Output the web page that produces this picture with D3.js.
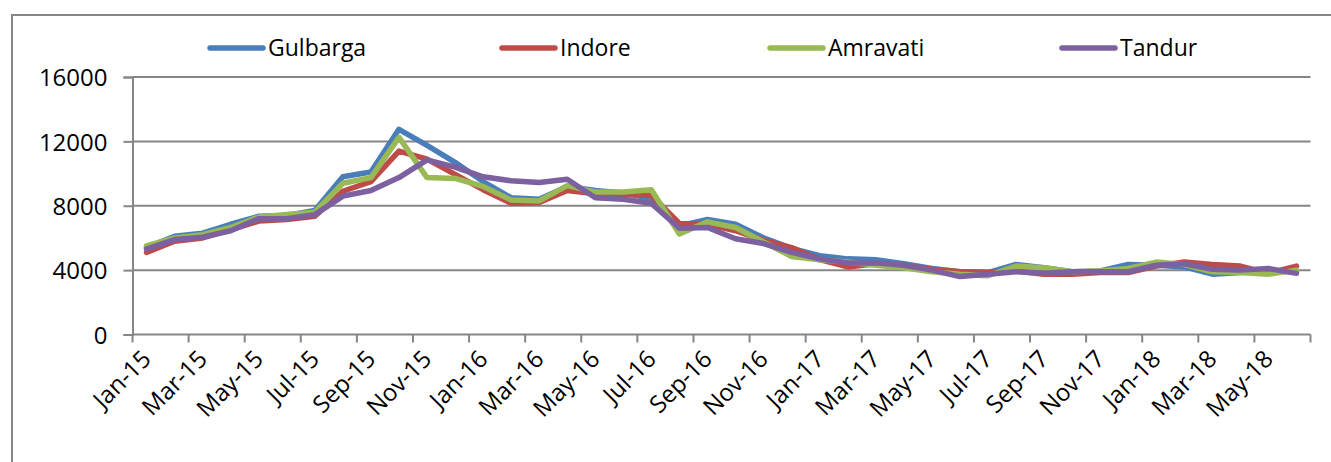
<!DOCTYPE html>
<html>
<head>
<meta charset="utf-8">
<title>Monthly prices</title>
<script src="https://cdnjs.cloudflare.com/ajax/libs/d3/7.8.5/d3.min.js"></script>
<style>
  body { margin: 0; background: #fff; }
  svg text { font-family: "Open Sans", sans-serif; fill: #000; }
</style>
</head>
<body>
<div id="chart"></div>
<script>
// months, Jan-15 .. Jun-18
var months = ["Jan-15","Feb-15","Mar-15","Apr-15","May-15","Jun-15","Jul-15","Aug-15","Sep-15","Oct-15","Nov-15","Dec-15",
              "Jan-16","Feb-16","Mar-16","Apr-16","May-16","Jun-16","Jul-16","Aug-16","Sep-16","Oct-16","Nov-16","Dec-16",
              "Jan-17","Feb-17","Mar-17","Apr-17","May-17","Jun-17","Jul-17","Aug-17","Sep-17","Oct-17","Nov-17","Dec-17",
              "Jan-18","Feb-18","Mar-18","Apr-18","May-18","Jun-18"];

var gulbarga = [5400,6100,6300,6850,7350,7400,7700,9800,10100,12750,11750,10700,
                9500,8500,8400,9200,8950,8800,8450,6750,7150,6850,6000,5350,
                4900,4700,4650,4400,4100,3900,3850,4350,4150,3900,3950,4350,
                4300,4200,3750,3850,3950,3900];
var indore   = [5100,5800,6000,6500,7050,7150,7350,8900,9500,11400,10900,9950,
                9000,8150,8200,8950,8750,8700,8650,6900,6850,6450,5850,5400,
                4650,4200,4400,4300,4050,3900,3850,3950,3750,3750,3850,3850,
                4250,4500,4350,4250,3800,4250];
var amravati = [5500,6000,6200,6650,7300,7450,7600,9400,9750,12250,9750,9700,
                9200,8350,8300,9250,8850,8850,9000,6250,7000,6650,5750,4850,
                4650,4500,4300,4150,3900,3750,3650,4250,4150,3900,3950,4100,
                4500,4350,3900,3850,3750,4000];
var tandur   = [5300,5900,6050,6450,7200,7200,7450,8600,8950,9750,10850,10400,
                9800,9550,9450,9650,8500,8400,8150,6600,6650,5950,5650,5100,
                4700,4450,4450,4300,4000,3600,3750,3900,3800,3900,3900,3900,
                4300,4400,4050,4000,4100,3800];

var seriesNames  = ["Gulbarga", "Indore", "Amravati", "Tandur"];
var seriesValues = [gulbarga, indore, amravati, tandur];
var seriesColors = ["#4a7ebb", "#be4b48", "#98b954", "#7d60a0"];
var yTicks = [0, 4000, 8000, 12000, 16000];

var W = 1331, H = 462;
var plotLeft = 132.5, plotRight = 1310.5, plotTop = 77, plotBottom = 334.5;

var svg = d3.select("#chart").append("svg")
    .attr("width", W).attr("height", H);

// chart area border (only top and left visible)
svg.append("rect")
    .attr("x", 12).attr("y", 15)
    .attr("width", W + 20).attr("height", H + 20)
    .attr("fill", "none").attr("stroke", "#868686").attr("stroke-width", 2);

var x = d3.scaleBand().domain(months).range([plotLeft, plotRight]).paddingInner(0).paddingOuter(0);
var y = d3.scaleLinear().domain([0, 16000]).range([plotBottom, plotTop]);
var cx = function (m) { return x(m) + x.bandwidth() / 2; };

// gridlines
svg.append("g")
  .selectAll("line")
  .data(yTicks.filter(function (d) { return d > 0; }))
  .enter().append("line")
    .attr("x1", plotLeft).attr("x2", plotRight)
    .attr("y1", function (d) { return y(d); })
    .attr("y2", function (d) { return y(d); })
    .attr("stroke", "#868686").attr("stroke-width", 2);

// y axis
var yAxis = svg.append("g")
    .attr("transform", "translate(" + plotLeft + ",0)")
    .call(d3.axisLeft(y).tickValues(yTicks).tickSize(9).tickPadding(16).tickFormat(d3.format("d")));
yAxis.select(".domain").attr("stroke", "#868686").attr("stroke-width", 2);
yAxis.selectAll(".tick line").attr("stroke", "#868686").attr("stroke-width", 2);
yAxis.selectAll("text").style("font-size", "24px").attr("dy", "0.36em");

// x axis: tick marks at category boundaries every 2 months
var tickMonths = months.filter(function (m, i) { return i % 2 == 0; });
var xg = svg.append("g");
xg.append("line")
    .attr("x1", plotLeft).attr("x2", plotRight)
    .attr("y1", plotBottom).attr("y2", plotBottom)
    .attr("stroke", "#868686").attr("stroke-width", 2);
xg.selectAll(".xt")
  .data(tickMonths.map(function (m) { return x(m); }).concat([plotRight]))
  .enter().append("line")
    .attr("x1", function (d) { return d; }).attr("x2", function (d) { return d; })
    .attr("y1", plotBottom).attr("y2", plotBottom + 8)
    .attr("stroke", "#868686").attr("stroke-width", 2);
xg.selectAll("text")
  .data(tickMonths)
  .enter().append("text")
    .attr("transform", function (m) { return "translate(" + (cx(m) + 6) + "," + (plotBottom + 26) + ") rotate(-45)"; })
    .attr("text-anchor", "end")
    .style("font-size", "24px")
    .text(function (m) { return m; });

// lines
var line = d3.line()
    .x(function (d, i) { return cx(months[i]); })
    .y(function (d) { return y(d); });

svg.append("g")
  .selectAll("path")
  .data(seriesValues)
  .enter().append("path")
    .attr("d", line)
    .attr("fill", "none")
    .attr("stroke", function (d, i) { return seriesColors[i]; })
    .attr("stroke-width", 5.5)
    .attr("stroke-linejoin", "round")
    .attr("stroke-linecap", "round");

// legend
var legendX = [210, 502, 770, 1062];
var lg = svg.append("g")
  .selectAll("g")
  .data(seriesNames)
  .enter().append("g")
    .attr("transform", function (d, i) { return "translate(" + legendX[i] + ",48)"; });
lg.append("line")
    .attr("x1", 0).attr("x2", 53).attr("y1", 0).attr("y2", 0)
    .attr("stroke", function (d, i) { return seriesColors[i]; })
    .attr("stroke-width", 5.5).attr("stroke-linecap", "round");
lg.append("text")
    .attr("x", 58).attr("dy", "0.36em")
    .style("font-size", "23px")
    .text(function (d) { return d; });
</script>
</body>
</html>
